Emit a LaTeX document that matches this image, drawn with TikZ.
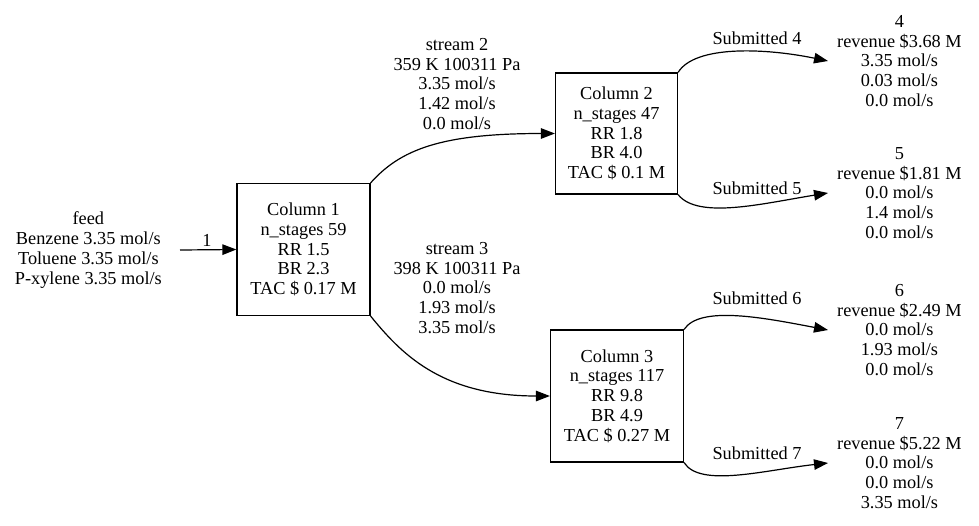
\documentclass[tikz,border=0pt]{standalone}
\usepackage{fontspec}
\setmainfont{Liberation Serif}
\newfontfamily\graphfont{Liberation Serif}
\usetikzlibrary{arrows.meta,positioning}

\begin{document}
\begin{tikzpicture}[
    x=1pt, y=-1pt,
    every node/.style={font=\graphfont\fontsize{18.3}{19.8}\selectfont},
    column/.style={
      rectangle, draw=black, line width=1.2pt, align=center,
      minimum width=133pt, minimum height=132pt, inner sep=0pt
    },
    feedtext/.style={align=center, anchor=east, inner xsep=18pt, inner ysep=0pt},
    product/.style={align=center, anchor=west, inner xsep=9pt, inner ysep=0pt},
    flow/.style={
      -{Triangle[length=14pt, width=10.5pt]}, line width=1.2pt
    },
    lbl/.style={align=center, inner sep=0pt}
  ]
  \useasboundingbox (0,0) rectangle (979,525);

  % --- feed and first column ---
  \node[feedtext] (feed) at (180,250)
    {feed\\Benzene 3.35 mol/s\\Toluene 3.35 mol/s\\P-xylene 3.35 mol/s};
  \node[column] (col1) at (303.5,249.5)
    {Column 1\\n\_stages 59\\RR 1.5\\BR 2.3\\TAC \$ 0.17 M};

  \draw[flow] (feed.east) -- (col1.west)
    node[lbl] (e1) at (207,240) {1};

  % --- second stage columns ---
  \node[column, minimum width=122pt, minimum height=121pt] (col2) at (616.5,133.5)
    {Column 2\\n\_stages 47\\RR 1.8\\BR 4.0\\TAC \$ 0.1 M};
  \node[column] (col3) at (617,396)
    {Column 3\\n\_stages 117\\RR 9.8\\BR 4.9\\TAC \$ 0.27 M};

  \draw[flow] (col1.north east) .. controls (400,150) and (440,133.5) .. (col2.west)
    node[lbl] (s2) at (457,84)
    {stream 2\\359 K 100311 Pa\\3.35 mol/s\\1.42 mol/s\\0.0 mol/s};
  \draw[flow] (col1.south east) .. controls (400,352) and (440,396) .. (col3.west)
    node[lbl] (s3) at (457,288)
    {stream 3\\398 K 100311 Pa\\0.0 mol/s\\1.93 mol/s\\3.35 mol/s};

  % --- products ---
  \node[product] (out4) at (828,61)
    {4\\revenue \$3.68 M\\3.35 mol/s\\0.03 mol/s\\0.0 mol/s};
  \node[product] (out5) at (828,193)
    {5\\revenue \$1.81 M\\0.0 mol/s\\1.4 mol/s\\0.0 mol/s};
  \node[product] (out6) at (828,330)
    {6\\revenue \$2.49 M\\0.0 mol/s\\1.93 mol/s\\0.0 mol/s};
  \node[product] (out7) at (828,463)
    {7\\revenue \$5.22 M\\0.0 mol/s\\0.0 mol/s\\3.35 mol/s};

  \draw[flow] (col2.north east) .. controls (695,45) and (765,48) .. (out4.west)
    node[lbl] (sub4) at (757,38) {Submitted 4};
  \draw[flow] (col2.south east) .. controls (698,220) and (765,203) .. (out5.west)
    node[lbl] (sub5) at (757,188) {Submitted 5};
  \draw[flow] (col3.north east) .. controls (700,305) and (765,318) .. (out6.west)
    node[lbl] (sub6) at (757,298) {Submitted 6};
  \draw[flow] (col3.south east) .. controls (700,488) and (765,470) .. (out7.west)
    node[lbl] (sub7) at (757,453) {Submitted 7};
\end{tikzpicture}
\end{document}
